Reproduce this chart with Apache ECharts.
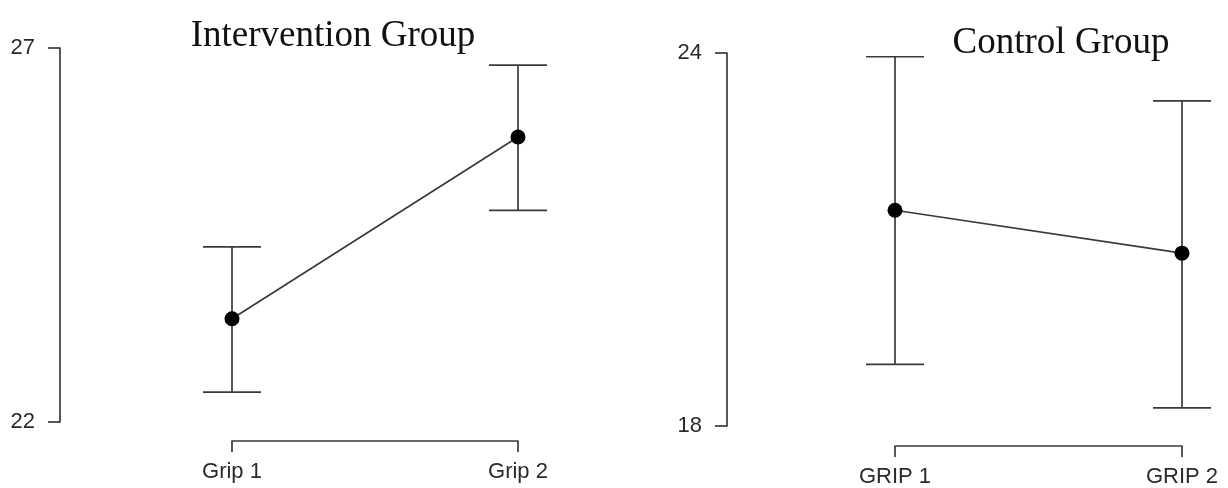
<!DOCTYPE html>
<html><head><meta charset="utf-8">
<script src="https://cdn.jsdelivr.net/npm/echarts@6/dist/echarts.min.js"></script>
<style>html,body{margin:0;padding:0;background:#fff}#c{width:1228px;height:488px}</style>
</head><body><div id="c"></div>
<script>
const catsLeft = ['Grip 1', 'Grip 2'];
const meanLeft = [23.38, 25.81];
const lowLeft = [22.40, 24.83];
const highLeft = [24.34, 26.77];
const yTicksLeft = [22, 27];

const catsRight = ['GRIP 1', 'GRIP 2'];
const meanRight = [21.47, 20.78];
const lowRight = [18.99, 18.29];
const highRight = [23.94, 23.23];
const yTicksRight = [18, 24];

const lineColor = '#3a3a3a';
const textColor = '#2a2a2a';

function errRender(params, api) {
  const x = api.value(0), lo = api.value(1), hi = api.value(2);
  const pLo = api.coord([x, lo]), pHi = api.coord([x, hi]);
  const half = 29;
  const st = {stroke: lineColor, lineWidth: 1.7};
  return {type: 'group', children: [
    {type: 'line', shape: {x1: pLo[0], y1: pLo[1], x2: pHi[0], y2: pHi[1]}, style: st},
    {type: 'line', shape: {x1: pLo[0]-half, y1: pLo[1], x2: pLo[0]+half, y2: pLo[1]}, style: st},
    {type: 'line', shape: {x1: pHi[0]-half, y1: pHi[1], x2: pHi[0]+half, y2: pHi[1]}, style: st}
  ]};
}

function yAxis(idx, ticks, offset) {
  return {
    type: 'value', gridIndex: idx, min: ticks[0], max: ticks[1], interval: ticks[1]-ticks[0],
    offset: offset,
    splitLine: {show: false},
    axisLine: {show: true, lineStyle: {color: lineColor, width: 1.7}},
    axisTick: {show: true, length: 12, lineStyle: {color: lineColor, width: 1.7}},
    axisLabel: {color: textColor, fontSize: 22, fontFamily: 'Liberation Sans', margin: 25}
  };
}
function xAxis(idx, cats, offset) {
  return {
    type: 'category', gridIndex: idx, data: cats, boundaryGap: false, offset: offset,
    axisLine: {show: true, lineStyle: {color: lineColor, width: 1.7}},
    axisTick: {show: true, length: 11, alignWithLabel: true, lineStyle: {color: lineColor, width: 1.7}},
    axisLabel: {color: textColor, fontSize: 22, fontFamily: 'Liberation Sans', margin: 20},
    splitLine: {show: false}
  };
}

const chart = echarts.init(document.getElementById('c'), null, {renderer: 'canvas'});
chart.setOption({
  animation: false,
  backgroundColor: '#fff',
  title: [
    {text: 'Intervention Group', left: 328, top: 13, textAlign: 'center',
     textStyle: {fontFamily: 'Liberation Serif', fontSize: 37, fontWeight: 'normal', color: '#111'}},
    {text: 'Control Group', left: 1056, top: 20, textAlign: 'center',
     textStyle: {fontFamily: 'Liberation Serif', fontSize: 37, fontWeight: 'normal', color: '#111'}}
  ],
  grid: [
    {left: 232, right: 1228-518, top: 48, bottom: 488-422},
    {left: 895, right: 1228-1182, top: 53, bottom: 488-427}
  ],
  xAxis: [xAxis(0, catsLeft, 19), xAxis(1, catsRight, 20)],
  yAxis: [yAxis(0, yTicksLeft, 172), yAxis(1, yTicksRight, 168)],
  series: [
    {type: 'custom', xAxisIndex: 0, yAxisIndex: 0, renderItem: errRender,
     data: catsLeft.map((c, i) => [i, lowLeft[i], highLeft[i]]), z: 2},
    {type: 'line', xAxisIndex: 0, yAxisIndex: 0, data: meanLeft, symbol: 'circle', symbolSize: 15,
     lineStyle: {color: lineColor, width: 1.7}, itemStyle: {color: '#000'}, z: 3},
    {type: 'custom', xAxisIndex: 1, yAxisIndex: 1, renderItem: errRender,
     data: catsRight.map((c, i) => [i, lowRight[i], highRight[i]]), z: 2},
    {type: 'line', xAxisIndex: 1, yAxisIndex: 1, data: meanRight, symbol: 'circle', symbolSize: 15,
     lineStyle: {color: lineColor, width: 1.7}, itemStyle: {color: '#000'}, z: 3}
  ]
});
</script></body></html>
